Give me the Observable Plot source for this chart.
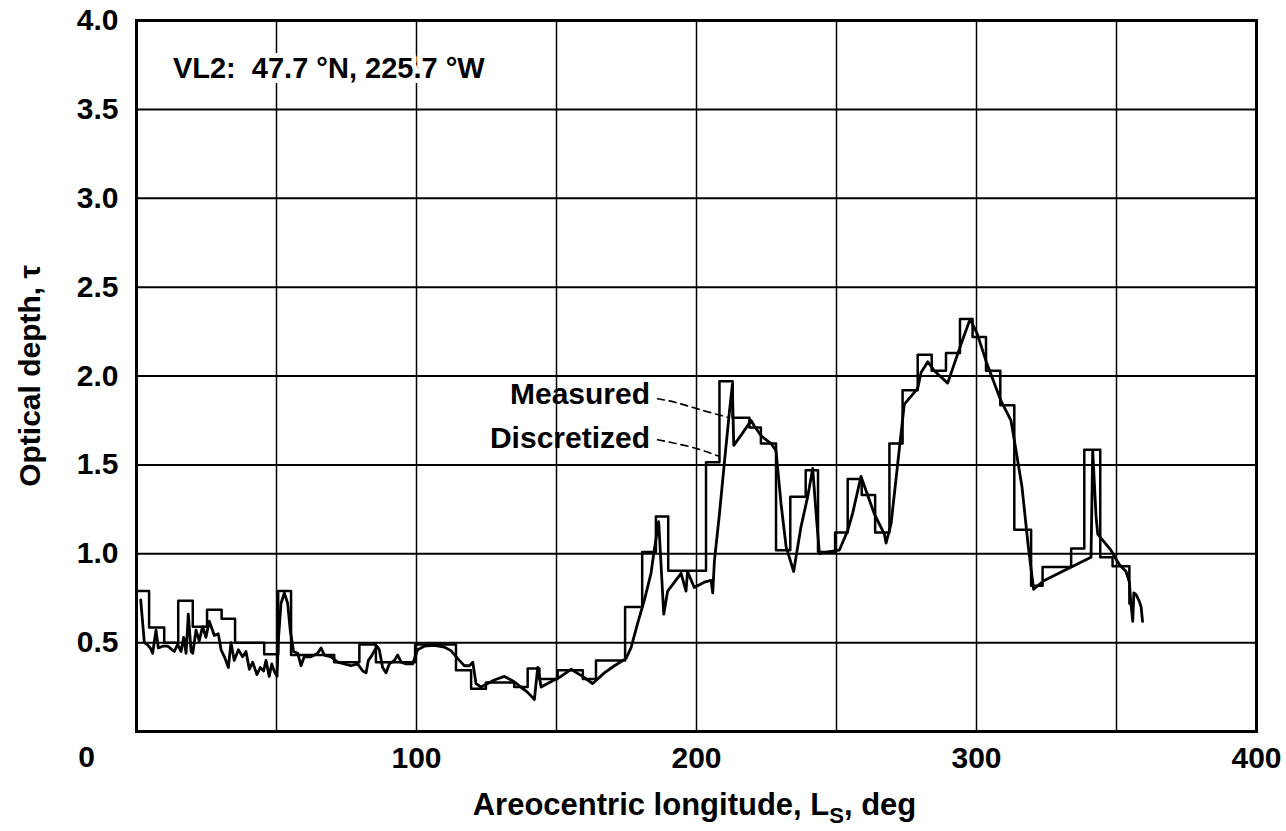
<!DOCTYPE html>
<html>
<head>
<meta charset="utf-8">
<script src="https://cdn.jsdelivr.net/npm/d3@7"></script>
<script src="https://cdn.jsdelivr.net/npm/@observablehq/plot@0.6"></script>
<style>
  html, body { margin: 0; padding: 0; background: #fff; }
</style>
</head>
<body>
<div id="chart"></div>
<script>
// ---- Data ----
const measuredLs = [1.5, 2.8, 3.75, 4.94, 5.77, 6.96, 7.8, 9.35, 11.13, 13.5, 14.7, 15.9, 16.85, 17.7, 18.5, 19.5, 20.1, 21.25, 22.4, 23.6, 24.8, 26, 27.8, 29.2, 30.2, 31.4, 32.8, 33.75, 34.9, 36.4, 37.9, 39.1, 40.3, 41.5, 43.0, 44.2, 45.4, 46.25, 47.4, 48.3, 49.2, 50.2, 50.65, 51.6, 52.8, 54, 54.9, 56.1, 57.6, 58.75, 59.9, 62.3, 64.7, 65.9, 67.1, 69.5, 71.85, 74.2, 76.6, 79, 80.8, 82, 82.8, 83.75, 85.9, 86.7, 87.9, 89.1, 90.3, 92.1, 93.3, 94.5, 96.3, 98.6, 100.4, 102.8, 106.4, 109.9, 112.3, 115.3, 117.1, 118.9, 120.1, 121.25, 123, 125.4, 127.8, 131.4, 134.9, 137.3, 139.7, 142.1, 143.3, 144.5, 148, 151.6, 155.2, 159.3, 162.9, 167.1, 170.7, 174.8, 176.6, 179, 181.4, 183.75, 184.9, 186.5, 188.3, 189.7, 194.5, 196.25, 196.8, 199.2, 202.8, 205.2, 205.8, 206.4, 208.2, 210, 211.7, 212.8, 213.3, 216.5, 219.5, 220.6, 223, 226.6, 228.4, 230.2, 232, 234.7, 237.3, 239.7, 241.5, 242.7, 243.9, 246.9, 251.0, 254, 255.8, 258.75, 263.5, 267.1, 267.7, 269.5, 274.2, 279, 280.2, 282.6, 284.9, 289.7, 294.5, 297.7, 300.2, 303.7, 308.75, 312.3, 313.5, 316.25, 318.5, 320.4, 324.2, 332.6, 340.9, 341.5, 342.7, 343.3, 348, 351, 353.4, 354.6, 355.1, 355.8, 356.2, 357, 358.2, 358.8, 359.3];
const measuredTau = [0.74, 0.50, 0.49, 0.47, 0.44, 0.57, 0.47, 0.48, 0.48, 0.45, 0.49, 0.45, 0.53, 0.44, 0.66, 0.45, 0.44, 0.57, 0.51, 0.59, 0.53, 0.62, 0.54, 0.55, 0.46, 0.42, 0.36, 0.50, 0.40, 0.46, 0.42, 0.45, 0.35, 0.39, 0.32, 0.36, 0.34, 0.40, 0.31, 0.38, 0.34, 0.31, 0.51, 0.72, 0.78, 0.72, 0.57, 0.45, 0.44, 0.37, 0.42, 0.42, 0.44, 0.47, 0.43, 0.42, 0.39, 0.38, 0.37, 0.38, 0.34, 0.33, 0.40, 0.42, 0.48, 0.46, 0.36, 0.33, 0.38, 0.40, 0.43, 0.39, 0.38, 0.38, 0.46, 0.48, 0.485, 0.475, 0.455, 0.40, 0.37, 0.37, 0.39, 0.27, 0.25, 0.27, 0.29, 0.31, 0.28, 0.25, 0.22, 0.18, 0.36, 0.25, 0.28, 0.31, 0.35, 0.31, 0.27, 0.33, 0.37, 0.41, 0.47, 0.61, 0.74, 0.89, 1.02, 1.18, 0.66, 0.79, 0.89, 0.79, 0.90, 0.81, 0.84, 0.85, 0.78, 0.96, 1.225, 1.52, 1.79, 1.95, 1.61, 1.68, 1.75, 1.72, 1.665, 1.62, 1.58, 1.28, 1.04, 0.90, 1.15, 1.32, 1.48, 1.23, 1.0, 1.01, 1.02, 1.13, 1.23, 1.435, 1.225, 1.11, 1.06, 1.17, 1.84, 1.93, 2.02, 2.08, 2.03, 1.96, 2.18, 2.32, 2.24, 2.07, 1.86, 1.75, 1.64, 1.375, 1.04, 0.80, 0.85, 0.915, 0.98, 1.58, 1.21, 1.11, 1.02, 0.94, 0.90, 0.84, 0.73, 0.62, 0.78, 0.77, 0.73, 0.70, 0.62];

// Discretized: step edges (start of each step, plus final end) and step values
const discLs = [0, 4.5, 9.9, 14.9, 20.1, 25.2, 30.4, 35.2, 45.6, 50.6, 55.2, 70.6, 79.6, 85.5, 99.5, 114.1, 119.5, 124.8, 134.9, 139.7, 143.9, 150.4, 159.4, 164.1, 174.5, 180.6, 185.5, 189.9, 203.4, 208.2, 212.9, 218.9, 223, 228.4, 233.5, 239, 243.4, 249.5, 254, 259, 263.8, 268.9, 273.6, 279, 284, 289.1, 294.1, 298.6, 303.4, 308.5, 313.5, 319.5, 323.6, 333.8, 338.5, 344.2, 348.6, 354.6, 356];
const discTau = [0.79, 0.585, 0.5, 0.735, 0.59, 0.685, 0.635, 0.5, 0.435, 0.79, 0.43, 0.39, 0.49, 0.39, 0.49, 0.345, 0.24, 0.275, 0.25, 0.355, 0.295, 0.345, 0.295, 0.40, 0.70, 1.01, 1.21, 0.905, 1.515, 1.97, 1.765, 1.71, 1.62, 1.02, 1.32, 1.47, 1.01, 1.12, 1.42, 1.33, 1.12, 1.62, 1.92, 2.12, 2.03, 2.13, 2.32, 2.22, 2.03, 1.835, 1.135, 0.82, 0.925, 1.03, 1.585, 0.98, 0.93, 0.72];

// Leader lines (dashed) from labels to the curves
const leaderMeasuredLs = [186.1, 192.1, 200.4, 211.7];
const leaderMeasuredTau = [1.872, 1.853, 1.815, 1.765];
const leaderDiscLs = [186.1, 192.1, 200.4, 208.2];
const leaderDiscTau = [1.641, 1.622, 1.59, 1.547];

// Series labels
const seriesNames = ["Measured", "Discretized"];
const seriesLabelLs = [183.4, 183.4];
const seriesLabelTau = [1.896, 1.648];

// Site annotation
const siteText = "VL2:\u00a0\u00a047.7 \u00b0N, 225.7 \u00b0W";
const siteLs = [13];
const siteTau = [3.73];

// Axes
const xTicks = [100, 200, 300, 400];
const xGrid = [0, 50, 100, 150, 200, 250, 300, 350, 400];
const yTicks = [0.5, 1.0, 1.5, 2.0, 2.5, 3.0, 3.5, 4.0];
const xTitle = "Areocentric longitude, LS, deg";
const yTitle = "Optical depth, \u03c4";

// ---- Build tables ----
const measured = measuredLs.map((x, i) => ({x, y: measuredTau[i]}));
const discretized = discLs.map((x, i) => ({x, y: discTau[Math.min(i, discTau.length - 1)]}));
const leaderM = leaderMeasuredLs.map((x, i) => ({x, y: leaderMeasuredTau[i]}));
const leaderD = leaderDiscLs.map((x, i) => ({x, y: leaderDiscTau[i]}));
const seriesLabels = seriesNames.map((t, i) => ({t, x: seriesLabelLs[i], y: seriesLabelTau[i]}));
const site = [{t: siteText, x: siteLs[0], y: siteTau[0]}];
const zeroLabel = [{t: "0", x: 0, y: 0}];

const FONT = "'Liberation Sans', Arial, Helvetica, sans-serif";

const chart = Plot.plot({
  width: 1286,
  height: 831,
  marginLeft: 136,
  marginRight: 30,
  marginTop: 20,
  marginBottom: 100,
  x: {domain: [0, 400]},
  y: {domain: [0, 4]},
  style: {fontFamily: FONT, fontWeight: "bold", fontSize: "30px", color: "#000", background: "#fff"},
  marks: [
    Plot.gridX(xGrid, {stroke: "#000", strokeOpacity: 1, strokeWidth: 1.5}),
    Plot.gridY(yTicks, {stroke: "#000", strokeOpacity: 1, strokeWidth: 2}),
    Plot.line(discretized, {x: "x", y: "y", curve: "step-after", stroke: "#000", strokeWidth: 2.5}),
    Plot.line(measured, {x: "x", y: "y", stroke: "#000", strokeWidth: 2.8, strokeLinejoin: "round"}),
    Plot.line(leaderM, {x: "x", y: "y", curve: "natural", stroke: "#000", strokeWidth: 1.6, strokeDasharray: "7,5"}),
    Plot.line(leaderD, {x: "x", y: "y", curve: "natural", stroke: "#000", strokeWidth: 1.6, strokeDasharray: "7,5"}),
    Plot.text(seriesLabels, {x: "x", y: "y", text: "t", textAnchor: "end", fontSize: 30, fontWeight: "bold", fill: "#000"}),
    Plot.text(site, {x: "x", y: "y", text: "t", textAnchor: "start", fontSize: 29, fontWeight: "bold", fill: "#000", stroke: "#fff", strokeWidth: 10}),
    Plot.axisY(yTicks, {tickSize: 0, tickPadding: 18, tickFormat: d3.format(".1f"), fontSize: 30, label: null}),
    Plot.axisX(xTicks, {tickSize: 0, tickPadding: 15, tickFormat: d3.format("d"), fontSize: 30, label: null}),
    Plot.text(zeroLabel, {x: "x", y: "y", text: "t", dx: -50, dy: 26, fontSize: 30, fontWeight: "bold"}),
    Plot.frame({stroke: "#000", strokeWidth: 3}),
    Plot.text([yTitle], {frameAnchor: "left", textAnchor: "middle", lineAnchor: "middle", dx: -106, rotate: -90, fontSize: 30, fontWeight: "bold"}),
    Plot.text([xTitle], {frameAnchor: "bottom", textAnchor: "middle", lineAnchor: "middle", dx: -2, dy: 74, fontSize: 31, fontWeight: "bold"})
  ]
});

document.getElementById("chart").appendChild(chart);

// Subscript S in the x-axis title
d3.select(chart).selectAll("text").each(function() {
  if (this.textContent === xTitle) {
    const t = d3.select(this);
    t.text(null);
    t.append("tspan").text("Areocentric longitude, L");
    t.append("tspan").attr("dy", 8).attr("font-size", 22).text("S");
    t.append("tspan").attr("dy", -8).text(", deg");
  }
});
</script>
</body>
</html>
